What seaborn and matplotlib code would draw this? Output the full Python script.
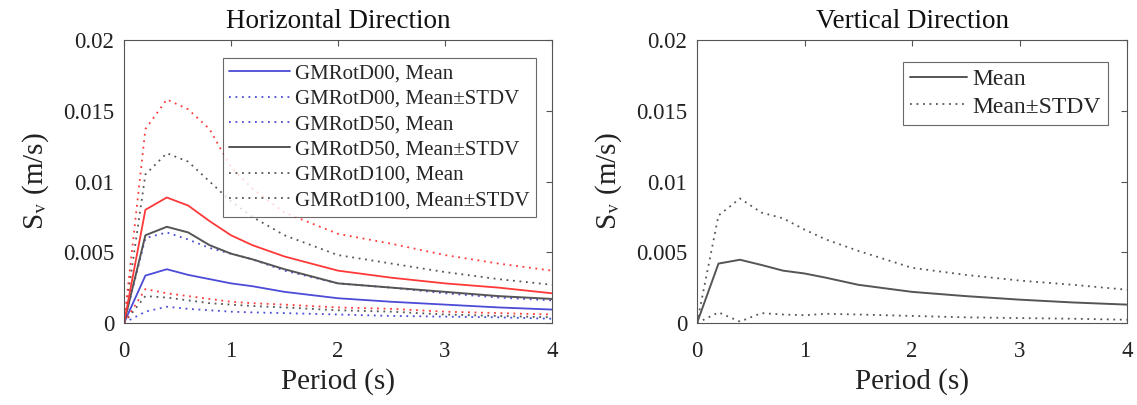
import matplotlib
matplotlib.use("Agg")
import matplotlib.pyplot as plt
import seaborn as sns
import pandas as pd
from matplotlib.ticker import FuncFormatter

# Spectral periods (s)
period = [0, 0.2, 0.4, 0.6, 0.8, 1.0, 1.2, 1.5, 2.0, 2.5, 3.0, 3.5, 4.0]

# Horizontal direction, pseudo-spectral velocity (m/s)
d00_mean = [0, 0.00335, 0.0038, 0.0034, 0.0031, 0.0028, 0.0026, 0.0022, 0.00175, 0.0015, 0.0013, 0.0011, 0.00095]
d00_upper = [0, 0.0060, 0.0064, 0.0059, 0.0053, 0.0049, 0.0045, 0.0037, 0.0028, 0.0025, 0.0021, 0.0018, 0.0016]
d00_lower = [0, 0.0008, 0.00115, 0.0010, 0.0009, 0.0008, 0.00075, 0.0007, 0.0006, 0.0005, 0.00045, 0.0004, 0.0003]

d50_mean = [0, 0.0062, 0.0068, 0.0064, 0.0055, 0.0049, 0.0045, 0.0038, 0.0028, 0.0025, 0.0022, 0.0019, 0.0017]
d50_upper = [0, 0.0105, 0.0120, 0.0114, 0.0100, 0.0086, 0.0075, 0.0062, 0.0048, 0.0042, 0.0036, 0.0031, 0.0027]
d50_lower = [0, 0.0019, 0.0018, 0.0016, 0.0014, 0.0013, 0.0012, 0.0011, 0.0009, 0.0008, 0.0006, 0.0005, 0.0004]

d100_mean = [0, 0.0080, 0.00887, 0.0083, 0.0072, 0.0062, 0.0055, 0.0047, 0.0037, 0.0032, 0.0028, 0.0025, 0.0021]
d100_upper = [0, 0.0137, 0.0158, 0.0151, 0.0137, 0.0110, 0.0095, 0.0078, 0.0063, 0.0056, 0.0048, 0.0042, 0.0037]
d100_lower = [0, 0.0024, 0.0021, 0.0019, 0.0017, 0.0015, 0.0014, 0.0013, 0.0011, 0.0010, 0.0008, 0.0007, 0.0006]

# Vertical direction
v_mean = [0, 0.0042, 0.00447, 0.0041, 0.0037, 0.0035, 0.0032, 0.0027, 0.0022, 0.0019, 0.00165, 0.00145, 0.0013]
v_upper = [0, 0.0076, 0.0088, 0.0078, 0.0074, 0.0066, 0.0059, 0.0051, 0.0039, 0.0034, 0.0030, 0.0027, 0.00235]
v_lower = [0, 0.00075, 0.0001, 0.0007, 0.0006, 0.00055, 0.00065, 0.0006, 0.0005, 0.0004, 0.00035, 0.0003, 0.00023]

# Legend entries in the order the first six curves are labelled
h_labels = ["GMRotD00, Mean", "GMRotD00, Mean\u00b1STDV", "GMRotD50, Mean",
            "GMRotD50, Mean\u00b1STDV", "GMRotD100, Mean", "GMRotD100, Mean\u00b1STDV"]
v_labels = ["Mean", "Mean\u00b1STDV"]

x_ticks = [0, 1, 2, 3, 4]
y_ticks = [0, 0.005, 0.01, 0.015, 0.02]

sns.set_style("white")
plt.rcParams["font.family"] = ["Liberation Serif", "DejaVu Serif"]
plt.rcParams["mathtext.fontset"] = "stix"
plt.rcParams["xtick.direction"] = "in"
plt.rcParams["ytick.direction"] = "in"

BLUE = "#4b4bd8"
GRAY = "#555555"
RED = "#ff3838"
AX_COL = "#555555"
DOT = (0, (1, 2.6))

fig = plt.figure(figsize=(11.37, 4.05), dpi=100)
ax1 = fig.add_axes([124 / 1137, 82 / 405, 428 / 1137, 283 / 405])
ax2 = fig.add_axes([697 / 1137, 82 / 405, 430 / 1137, 283 / 405])


def curve(ax, y, color, ls, label=None, lw=1.3):
    df = pd.DataFrame({"Period": period, "Sv": y})
    sns.lineplot(data=df, x="Period", y="Sv", ax=ax, color=color,
                 linestyle=ls, linewidth=lw, label=label, legend=False,
                 estimator=None, sort=False)


# Horizontal panel
curve(ax1, d00_mean, BLUE, "-", h_labels[0])
curve(ax1, d00_upper, BLUE, DOT, h_labels[1])
curve(ax1, d00_lower, BLUE, DOT, h_labels[2])
curve(ax1, d50_mean, GRAY, "-", h_labels[3], lw=1.4)
curve(ax1, d50_upper, GRAY, DOT, h_labels[4])
curve(ax1, d50_lower, GRAY, DOT, h_labels[5])
curve(ax1, d100_mean, RED, "-")
curve(ax1, d100_upper, RED, DOT)
curve(ax1, d100_lower, RED, DOT)

# Vertical panel
curve(ax2, v_mean, GRAY, "-", v_labels[0], lw=1.4)
curve(ax2, v_upper, GRAY, DOT, v_labels[1])
curve(ax2, v_lower, GRAY, DOT)

for ax, title in [(ax1, "Horizontal Direction"), (ax2, "Vertical Direction")]:
    ax.set_xlim(0, 4)
    ax.set_ylim(0, 0.02)
    ax.set_xticks(x_ticks)
    ax.set_yticks(y_ticks)
    ax.yaxis.set_major_formatter(FuncFormatter(lambda v, p: "%g" % v))
    ax.tick_params(axis="both", which="major", labelsize=16.5, length=4,
                   width=0.8, color=AX_COL, top=True, right=True,
                   labelcolor="#222222")
    ax.tick_params(axis="x", pad=13)
    ax.tick_params(axis="y", pad=7)
    for s in ax.spines.values():
        s.set_visible(True)
        s.set_color(AX_COL)
        s.set_linewidth(0.8)
    ax.set_title(title, fontsize=19.5, pad=9, color="#111111")
    ax.set_xlabel("Period (s)", fontsize=21, labelpad=4, color="#222222")
    ax.set_ylabel(r"S$_{\rm v}$ (m/s)", fontsize=21, labelpad=9, color="#222222")

leg1 = ax1.legend(loc="upper right", bbox_to_anchor=(0.962, 0.938),
                  fontsize=15, frameon=True, fancybox=False,
                  handlelength=2.9, handletextpad=0.25, labelspacing=0.28,
                  borderpad=0.3, borderaxespad=0)
leg1.get_frame().set_edgecolor("#444444")
leg1.get_frame().set_linewidth(0.8)

leg2 = ax2.legend(loc="upper right", bbox_to_anchor=(0.956, 0.924),
                  fontsize=17, frameon=True, fancybox=False,
                  handlelength=2.4, handletextpad=0.25, labelspacing=0.25,
                  borderpad=0.3, borderaxespad=0)
leg2.get_frame().set_edgecolor("#444444")
leg2.get_frame().set_linewidth(0.8)

fig.savefig("out.png", dpi=100, facecolor="white")
